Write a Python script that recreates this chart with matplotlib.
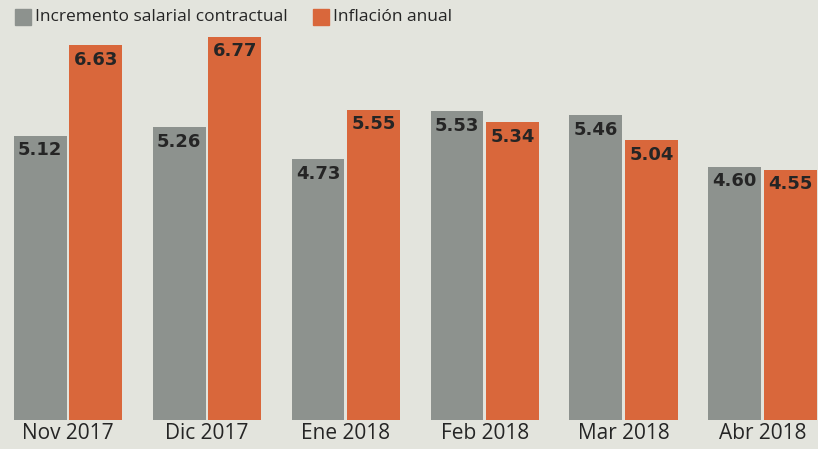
import matplotlib
matplotlib.use("Agg")
import matplotlib.pyplot as plt
from matplotlib.patches import Rectangle
import numpy as np

categories = ["Nov 2017", "Dic 2017", "Ene 2018", "Feb 2018", "Mar 2018", "Abr 2018"]
salarial = [5.12, 5.26, 4.73, 5.53, 5.46, 4.60]
inflacion = [6.63, 6.77, 5.55, 5.34, 5.04, 4.55]
series_names = ["Incremento salarial contractual", "Inflación anual"]

GRAY = "#8d928e"
ORANGE = "#d9673b"
BG = "#e3e4dd"
TXT = "#252525"

W, H = 818, 449
fig = plt.figure(figsize=(W / 100, H / 100), dpi=100, facecolor=BG)
ax = fig.add_axes([0, 1 - 420 / H, 1, 420 / H])
ax.set_facecolor(BG)
ax.patch.set_alpha(0)

x = np.arange(len(categories))
bw = 0.38
b1 = ax.bar(x - 0.2, salarial, width=bw, color=GRAY)
b2 = ax.bar(x + 0.2, inflacion, width=bw, color=ORANGE)

ax.set_xlim(-0.49, 5.40)
ax.set_ylim(0.383, 7.38)

for bars, vals in ((b1, salarial), (b2, inflacion)):
    for r, v in zip(bars, vals):
        ax.annotate(f"{v:.2f}", (r.get_x() + r.get_width() / 2, v),
                    xytext=(0, -4), textcoords="offset points",
                    ha="center", va="top", fontsize=13, fontweight="bold",
                    color=TXT, family="DejaVu Sans")

ax.set_xticks(x)
ax.set_xticklabels(categories, fontsize=15, color=TXT, family="Open Sans")
ax.tick_params(axis="x", length=0, pad=2)
ax.set_yticks([])
for s in ax.spines.values():
    s.set_visible(False)

# legend
def legend_item(x0, color, label):
    fig.patches.append(Rectangle((x0 / W, 1 - 25 / H), 16 / W, 16 / H,
                                 transform=fig.transFigure, color=color))
    fig.text((x0 + 20) / W, 1 - 17 / H, label, fontsize=12.5, color=TXT,
             family="Open Sans", va="center", ha="left")

legend_item(15, GRAY, series_names[0])
legend_item(313, ORANGE, series_names[1])

fig.savefig("out.png", dpi=100, facecolor=BG)
